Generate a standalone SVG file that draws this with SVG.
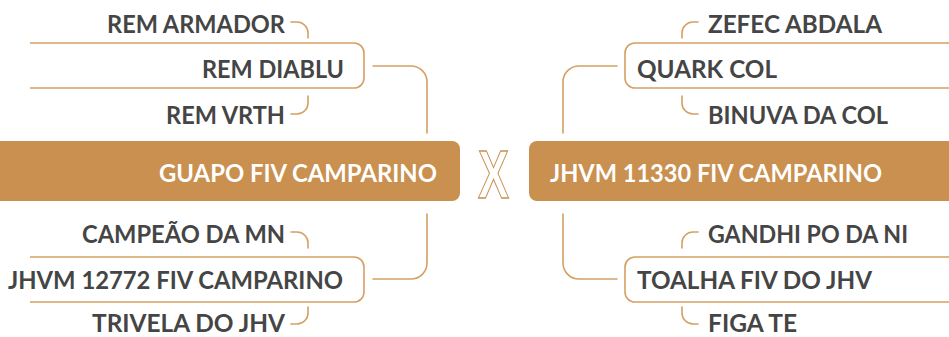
<svg xmlns="http://www.w3.org/2000/svg" width="949" height="337" viewBox="0 0 949 337">
<style>
.ln{fill:none;stroke:#D4A064;stroke-width:1.6;stroke-linecap:round}
.bx{fill:#fff;stroke:#D4A064;stroke-width:1.6}
.main{fill:#C9904F}
.t{font-family:Lato,"Open Sans",sans-serif;font-weight:700;font-size:24px;fill:#454545}
.tm{font-family:Lato,"Open Sans",sans-serif;font-weight:700;font-size:25px;fill:#fff}
.e{text-anchor:end}
</style>
<rect width="949" height="337" fill="#fff"/>
<g id="connectors">
<path class="ln" d="M373,66 H411 A16,16 0 0 1 427,82 V133"/>
<path class="ln" d="M427,214 V263 A16,16 0 0 1 411,279 H373"/>
<path class="ln" d="M617,66 H579 A16,16 0 0 0 563,82 V133"/>
<path class="ln" d="M563,214 V263 A16,16 0 0 0 579,279 H617"/>
<path class="ln" d="M291,22 H297 A11,11 0 0 1 308,33 V38"/>
<path class="ln" d="M308,96 V103 A11,11 0 0 1 297,114 H291"/>
<path class="ln" d="M291,232 H297 A11,11 0 0 1 308,243 V248"/>
<path class="ln" d="M308,307 V313 A11,11 0 0 1 297,324 H291"/>
<path class="ln" d="M698,22 H693 A11,11 0 0 0 682,33 V38"/>
<path class="ln" d="M682,96 V103 A11,11 0 0 0 693,114 H698"/>
<path class="ln" d="M698,232 H693 A11,11 0 0 0 682,243 V248"/>
<path class="ln" d="M682,307 V313 A11,11 0 0 0 693,324 H698"/>
</g>
<g id="main-left">
<path class="main" d="M-10,141 H452 A8,8 0 0 1 460,149 V193 A8,8 0 0 1 452,201 H-10 Z"/>
<text class="tm" x="159" y="182" textLength="278" lengthAdjust="spacingAndGlyphs">GUAPO FIV CAMPARINO</text>
</g>
<g id="versus">
<text x="478" y="198" font-family="Liberation Sans,Arial,sans-serif" font-weight="700" font-size="68" fill="#fff" stroke="#C9904F" stroke-width="1.3" textLength="31" lengthAdjust="spacingAndGlyphs">X</text>
</g>
<g id="main-right">
<path class="main" d="M959,141 H537 A8,8 0 0 0 529,149 V193 A8,8 0 0 0 537,201 H959 Z"/>
<text class="tm" x="550" y="182" textLength="332" lengthAdjust="spacingAndGlyphs">JHVM 11330 FIV CAMPARINO</text>
</g>
<g id="rem-armador">
<text class="t e" x="285" y="33" textLength="178" lengthAdjust="spacingAndGlyphs">REM ARMADOR</text>
</g>
<g id="rem-diablu">
<path class="bx" d="M30,43 H354 A10,10 0 0 1 364,53 V78 A10,10 0 0 1 354,88 H30"/>
<text class="t e" x="344" y="78" textLength="142" lengthAdjust="spacingAndGlyphs">REM DIABLU</text>
</g>
<g id="rem-vrth">
<text class="t e" x="285" y="123.5" textLength="119" lengthAdjust="spacingAndGlyphs">REM VRTH</text>
</g>
<g id="campeao">
<text class="t e" x="285" y="243" textLength="203" lengthAdjust="spacingAndGlyphs">CAMPEÃO DA MN</text>
</g>
<g id="jhvm-12772">
<path class="bx" d="M30,257 H354 A10,10 0 0 1 364,267 V292 A10,10 0 0 1 354,302 H30"/>
<text class="t e" x="343" y="289" textLength="335" lengthAdjust="spacingAndGlyphs">JHVM 12772 FIV CAMPARINO</text>
</g>
<g id="trivela">
<text class="t e" x="285" y="332" textLength="193" lengthAdjust="spacingAndGlyphs">TRIVELA DO JHV</text>
</g>
<g id="zefec">
<text class="t" x="708" y="33" textLength="174" lengthAdjust="spacingAndGlyphs">ZEFEC ABDALA</text>
</g>
<g id="quark-col">
<path class="bx" d="M959,43 H635 A10,10 0 0 0 625,53 V78 A10,10 0 0 0 635,88 H959"/>
<text class="t" x="637" y="78" textLength="140" lengthAdjust="spacingAndGlyphs">QUARK COL</text>
</g>
<g id="binuva">
<text class="t" x="708" y="123.5" textLength="180" lengthAdjust="spacingAndGlyphs">BINUVA DA COL</text>
</g>
<g id="gandhi">
<text class="t" x="708" y="243" textLength="200" lengthAdjust="spacingAndGlyphs">GANDHI PO DA NI</text>
</g>
<g id="toalha">
<path class="bx" d="M959,257 H635 A10,10 0 0 0 625,267 V292 A10,10 0 0 0 635,302 H959"/>
<text class="t" x="637" y="289" textLength="235" lengthAdjust="spacingAndGlyphs">TOALHA FIV DO JHV</text>
</g>
<g id="figa-te">
<text class="t" x="708" y="332" textLength="89" lengthAdjust="spacingAndGlyphs">FIGA TE</text>
</g>
</svg>
